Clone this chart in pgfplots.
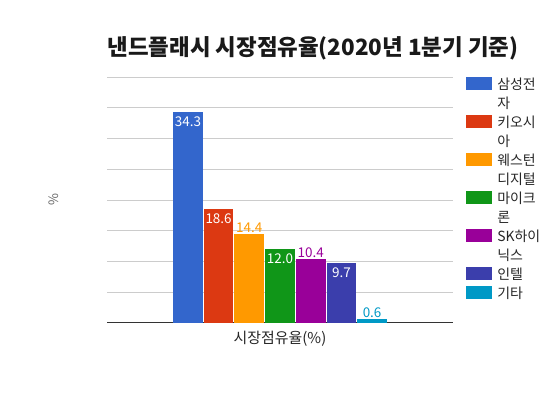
\documentclass[border=0pt]{standalone}
\usepackage{fontspec}
\setmainfont{Noto Sans CJK KR}
\usepackage{pgfplots}
\pgfplotsset{compat=1.18}
\definecolor{c1}{HTML}{3366CC}
\definecolor{c2}{HTML}{DC3912}
\definecolor{c3}{HTML}{FF9900}
\definecolor{c4}{HTML}{109618}
\definecolor{c5}{HTML}{990099}
\definecolor{c6}{HTML}{3B3EAC}
\definecolor{c7}{HTML}{0099C6}
\pgfplotsset{
  inl/.style={every node near coord/.append style={anchor=north, text=white, yshift=-4.5bp}},
  outl/.style={every node near coord/.append style={anchor=base, text=#1, yshift=2bp}},
}
\begin{document}
\begin{tikzpicture}
\path[use as bounding box] (0,0) rectangle (560bp,400bp);
\begin{axis}[
  at={(107bp,77bp)}, anchor=south west,
  width=346bp, height=246bp, scale only axis,
  xmin=-1, xmax=1, ymin=0, ymax=40,
  ybar=1bp, bar width=29.7bp,
  axis line style={draw=none},
  major tick length=0pt,
  ytick={5,10,...,40}, yticklabels={},
  ymajorgrids, grid style={draw=black!20, line width=0.8bp},
  extra y ticks={0}, extra y tick labels={},
  extra y tick style={grid style={draw=black!80, line width=1bp}},
  xtick={0}, xticklabels={시장점유율(\%)},
  xticklabel style={anchor=north, inner sep=0pt, yshift=-8bp, text=black!85, font=\fontsize{15}{17}\selectfont},
  ylabel={\%},
  every axis y label/.style={at={(rel axis cs:0,0.5)}, xshift=-53bp, rotate=90, anchor=center, text=black!60, font=\fontsize{13}{15}\selectfont},
  title={\textbf{낸드플래시 시장점유율(2020년 1분기 기준)}},
  title style={at={(rel axis cs:0.5,1)}, anchor=center, xshift=33bp, yshift=23bp, font=\fontsize{22.5}{26}\selectfont, text=black!90},
  nodes near coords={\pgfmathprintnumber[fixed,fixed zerofill,precision=1,assume math mode=true]{\pgfplotspointmeta}},
  every node near coord/.append style={font=\fontsize{13.5}{15}\selectfont, inner sep=0pt},
  legend style={draw=none, fill=none, at={(rel axis cs:1,1)}, anchor=north west, xshift=13.3bp,
    inner sep=0pt, outer sep=0pt, row sep=3bp, column sep=5bp,
    font=\fontsize{14}{17}\selectfont, text=black!85,
    cells={anchor=base west}, nodes={inner sep=0pt, text height=12bp, text depth=4bp}},
  legend image code/.code={\fill[#1] (0bp,-1bp) rectangle (26bp,12bp);},
]
\addplot[fill=c1, draw=none, inl] coordinates {(0,34.3)};
\addlegendentry{삼성전}
\addlegendimage{empty legend}\addlegendentry{자}
\addplot[fill=c2, draw=none, inl] coordinates {(0,18.6)};
\addlegendentry{키오시}
\addlegendimage{empty legend}\addlegendentry{아}
\addplot[fill=c3, draw=none, outl=c3] coordinates {(0,14.4)};
\addlegendentry{웨스턴}
\addlegendimage{empty legend}\addlegendentry{디지털}
\addplot[fill=c4, draw=none, inl] coordinates {(0,12.0)};
\addlegendentry{마이크}
\addlegendimage{empty legend}\addlegendentry{론}
\addplot[fill=c5, draw=none, outl=c5] coordinates {(0,10.4)};
\addlegendentry{SK하이}
\addlegendimage{empty legend}\addlegendentry{닉스}
\addplot[fill=c6, draw=none, inl] coordinates {(0,9.7)};
\addlegendentry{인텔}
\addplot[fill=c7, draw=none, outl=c7] coordinates {(0,0.6)};
\addlegendentry{기타}
\end{axis}
\end{tikzpicture}
\end{document}
